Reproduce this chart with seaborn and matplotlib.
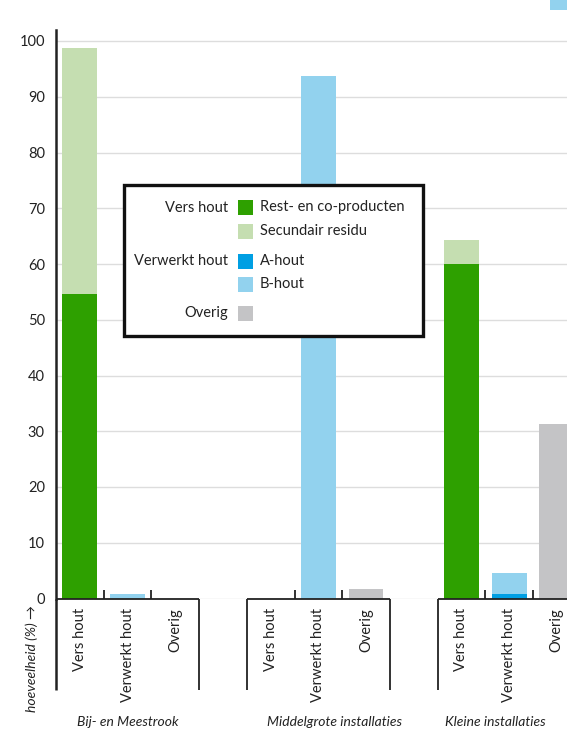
import numpy as np
import pandas as pd
import matplotlib
matplotlib.use("Agg")
import matplotlib.pyplot as plt
import matplotlib.transforms as mtransforms
from matplotlib.patches import Rectangle
import seaborn as sns

# ---------------- data ----------------
groups = ["Bij- en Meestrook", "Middelgrote installaties", "Kleine installaties"]
categories = ["Vers hout", "Verwerkt hout", "Overig"]
rest_co = [54.7, 0.0, 60.0]      # Vers hout - Rest- en co-producten
secundair = [44.0, 0.0, 4.3]     # Vers hout - Secundair residu
a_hout = [0.0, 0.0, 0.8]         # Verwerkt hout - A-hout
b_hout = [0.8, 93.8, 3.7]        # Verwerkt hout - B-hout
overig = [0.0, 1.7, 31.3]        # Overig
yticks = [0, 10, 20, 30, 40, 50, 60, 70, 80, 90, 100]

colors = {
    "Rest- en co-producten": "#2ea000",
    "Secundair residu": "#c5deb1",
    "A-hout": "#009fe3",
    "B-hout": "#92d2ee",
    "Overig": "#c4c4c6",
}

# build layered table (totals first, then the lower parts drawn over them)
rows = []
positions = []
for g in range(len(groups)):
    base = g * 4
    pv, pw, po = base, base + 1, base + 2
    positions += [pv, pw, po]
    rows.append(dict(pos=pv, value=rest_co[g] + secundair[g], layer="Secundair residu"))
    rows.append(dict(pos=pv, value=rest_co[g], layer="Rest- en co-producten"))
    rows.append(dict(pos=pw, value=a_hout[g] + b_hout[g], layer="B-hout"))
    rows.append(dict(pos=pw, value=a_hout[g], layer="A-hout"))
    rows.append(dict(pos=po, value=overig[g], layer="Overig"))
df = pd.DataFrame(rows)
hue_order = ["Secundair residu", "Rest- en co-producten", "B-hout", "A-hout", "Overig"]

# ---------------- figure ----------------
sns.set_style("white")
plt.rcParams["font.family"] = ["Lato", "DejaVu Sans"]
W, H = 567, 731
fig = plt.figure(figsize=(W / 100, H / 100), dpi=100)

ax_left, ax_bottom_px, ax_top_px = 56, 598.5, 30
ax = fig.add_axes([ax_left / W, 1 - ax_bottom_px / H, 1 - ax_left / W,
                   (ax_bottom_px - ax_top_px) / H])

sns.barplot(data=df, x="pos", y="value", hue="layer", hue_order=hue_order,
            palette=colors, dodge=False, native_scale=True, width=0.73,
            saturation=1, linewidth=0, legend=False, ax=ax, errorbar=None)

slot_px = 47.7
ax.set_xlim(-0.5, -0.5 + (W - ax_left) / slot_px)
ax.set_ylim(0, 100 * (ax_bottom_px - ax_top_px) / (ax_bottom_px - 41))

ax.set_yticks(yticks)
ax.set_yticklabels([str(t) for t in yticks], fontsize=10.5, color="#222222")
ax.yaxis.grid(True, color="#dddddd", linewidth=1.0)
ax.set_axisbelow(True)
ax.tick_params(axis="y", length=3, width=1, color="#222222", pad=5, direction="out")

ax.set_xticks(positions)
ax.set_xticklabels(categories * len(groups), rotation=90, fontsize=10.5, color="#222222")
ax.tick_params(axis="x", length=0, pad=7)
ax.set_xlabel("")
ax.set_ylabel("")

for s in ["top", "right", "bottom"]:
    ax.spines[s].set_visible(False)
ax.spines["left"].set_linewidth(1.8)
ax.spines["left"].set_color("#222222")

# baseline segments, separators, small ticks
trans = mtransforms.blended_transform_factory(ax.transData, ax.transAxes)
below = -(690 - ax_bottom_px) / (ax_bottom_px - ax_top_px)
line_kw = dict(color="#222222", linewidth=1.3, clip_on=False, solid_capstyle="butt")
for g in range(len(groups)):
    x0 = g * 4 - 0.5
    x1 = g * 4 + 2.5
    ax.plot([x0, x1], [0, 0], transform=trans, **line_kw)
    if g > 0:
        ax.plot([x0, x0], [below, 0], transform=trans, **line_kw)
    ax.plot([x1, x1], [below, 0], transform=trans, **line_kw)
    for k in (0.5, 1.5):
        ax.plot([g * 4 + k] * 2, [0, 9 / (ax_bottom_px - ax_top_px)], transform=trans, **line_kw)
ax.plot([-0.5, -0.5], [below, 0], transform=trans, color="#222222", linewidth=1.8,
        clip_on=False, solid_capstyle="butt")

# group labels
group_label_x = [1.0, 5.33, 8.7]
ylab = -(722 - ax_bottom_px) / (ax_bottom_px - ax_top_px)
for gx, name in zip(group_label_x, groups):
    ax.text(gx, ylab, name, transform=trans, ha="center", va="center",
            fontsize=10, style="italic", color="#222222")

fig.text(32 / W, 1 - 659 / H, "hoeveelheid (%) →", rotation=90, ha="center",
         va="center", fontsize=10, style="italic", color="#222222")

# ---------------- legend (overlay in pixel coordinates) ----------------
ov = fig.add_axes([0, 0, 1, 1], zorder=10)
ov.set_xlim(0, W)
ov.set_ylim(H, 0)
ov.axis("off")
ov.patch.set_alpha(0)

ov.add_patch(Rectangle((123.5, 184.5), 299, 151, facecolor="white",
                       edgecolor="#111111", linewidth=2.4))
legend_rows = [
    ("Vers hout", "Rest- en co-producten", 207.5),
    ("", "Secundair residu", 231),
    ("Verwerkt hout", "A-hout", 261),
    ("", "B-hout", 284),
    ("Overig", "", 313),
]
legend_keys = ["Rest- en co-producten", "Secundair residu", "A-hout", "B-hout", "Overig"]
for (left, right, yc), key in zip(legend_rows, legend_keys):
    ov.add_patch(Rectangle((238, yc - 7.5), 15, 15, facecolor=colors[key], edgecolor="none"))
    if left:
        ov.text(228, yc, left, ha="right", va="center", fontsize=10.5, color="#222222")
    if right:
        ov.text(260, yc, right, ha="left", va="center", fontsize=10.5, color="#222222")

# small blue marker at top right (part of the source page)
ov.add_patch(Rectangle((550, 0), 17, 10, facecolor="#92d2ee", edgecolor="none"))

fig.savefig("out.png", dpi=100)
